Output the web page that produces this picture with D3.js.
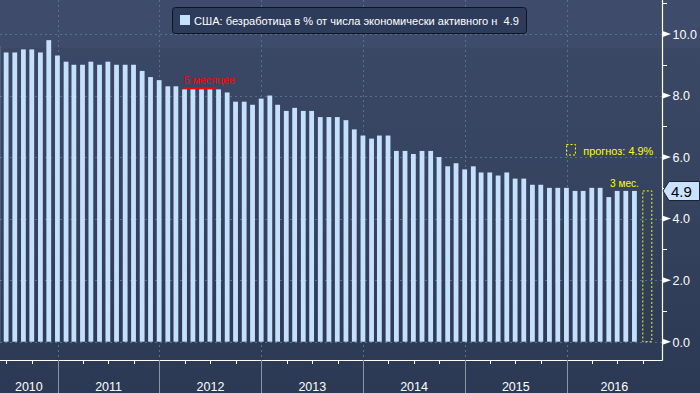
<!DOCTYPE html>
<html><head><meta charset="utf-8">
<script src="https://cdn.jsdelivr.net/npm/d3@7"></script>
<style>
body{margin:0;background:#2c3a55;overflow:hidden;}
svg{display:block;}
text{font-family:"Liberation Sans",Arial,sans-serif;}
</style>
</head><body><svg id="chart" width="700" height="393"></svg>
<script>
// ---- data ----
const periods = [
  "2010-05","2010-06","2010-07","2010-08","2010-09","2010-10","2010-11","2010-12",
  "2011-01","2011-02","2011-03","2011-04","2011-05","2011-06","2011-07","2011-08","2011-09","2011-10","2011-11","2011-12",
  "2012-01","2012-02","2012-03","2012-04","2012-05","2012-06","2012-07","2012-08","2012-09","2012-10","2012-11","2012-12",
  "2013-01","2013-02","2013-03","2013-04","2013-05","2013-06","2013-07","2013-08","2013-09","2013-10","2013-11","2013-12",
  "2014-01","2014-02","2014-03","2014-04","2014-05","2014-06","2014-07","2014-08","2014-09","2014-10","2014-11","2014-12",
  "2015-01","2015-02","2015-03","2015-04","2015-05","2015-06","2015-07","2015-08","2015-09","2015-10","2015-11","2015-12",
  "2016-01","2016-02","2016-03","2016-04","2016-05","2016-06","2016-07","2016-08"
];
const unemployment = [
  9.6,9.4,9.4,9.5,9.5,9.4,9.8,9.3,
  9.1,9.0,9.0,9.1,9.0,9.1,9.0,9.0,9.0,8.8,8.6,8.5,
  8.3,8.3,8.2,8.2,8.2,8.2,8.2,8.1,7.8,7.8,7.7,7.9,
  8.0,7.7,7.5,7.6,7.5,7.5,7.3,7.3,7.3,7.2,6.9,6.7,
  6.6,6.7,6.7,6.2,6.2,6.1,6.2,6.2,6.0,5.7,5.8,5.6,
  5.7,5.5,5.5,5.4,5.5,5.3,5.3,5.1,5.1,5.0,5.0,5.0,
  4.9,4.9,5.0,5.0,4.7,4.9,4.9,4.9
];
const forecastPeriod = "2016-09";
const forecastValue = 4.9;
const yMajorTicks = [0,2,4,6,8,10];
const yMinorTicks = [1,3,5,7,9,11];
const yearLabels = ["2010","2011","2012","2013","2014","2015","2016"];
const legendLabel = "США: безработица в % от числа экономически активного н  4.9";
const lastValueLabel = "4.9";
const note5Text = "5 месяцев";
const note5Range = ["2012-03","2012-07"];
const note3Text = "3 мес.";
const note3Range = ["2016-06","2016-08"];
const forecastText = "прогноз: 4.9%";

// ---- setup ----
const W = 700, H = 393;
const plotRight = 662, axisY = 360;
const svg = d3.select("#chart");
const monthEnd = p => { const [y,m] = p.split("-").map(Number); return new Date(y, m, 0); };

const x = d3.scaleTime()
  .domain([new Date(2011,0,1), new Date(2016,0,1)])
  .range([57.7, 566.7]);
const y = d3.scaleLinear().domain([0,10]).range([341.7, 34]);

// background
const defs = svg.append("defs");
const grad = defs.append("linearGradient").attr("id","bg").attr("x1",0).attr("y1",0).attr("x2",0).attr("y2",1);
[[0,"#3b4865"],[0.45,"#36435f"],[0.8,"#2f3c58"],[1,"#2b3954"]].forEach(([o,c]) =>
  grad.append("stop").attr("offset",o).attr("stop-color",c));
svg.append("rect").attr("x",0).attr("y",48).attr("width",W).attr("height",H-48).attr("fill","url(#bg)");
svg.append("rect").attr("x",0).attr("y",0).attr("width",W).attr("height",48).attr("fill","#3e4b6a");

const clip = defs.append("clipPath").attr("id","plotclip");
clip.append("rect").attr("x",0).attr("y",0).attr("width",plotRight).attr("height",axisY);

// grid
const years = d3.timeYear.range(new Date(2010,0,1), new Date(2017,0,1));
const grid = svg.append("g").attr("stroke","#56718d").attr("stroke-width",1).attr("stroke-dasharray","2,3");
grid.selectAll("line.h").data(yMajorTicks).join("line")
  .attr("x1",0).attr("x2",plotRight).attr("y1",d=>Math.round(y(d))+0.5).attr("y2",d=>Math.round(y(d))+0.5);
grid.selectAll("line.v").data(years.filter(d => x(d) > 0 && x(d) < plotRight)).join("line")
  .attr("x1",d=>Math.round(x(d))+0.5).attr("x2",d=>Math.round(x(d))+0.5).attr("y1",0).attr("y2",axisY);

// bars
const barW = 4.8;
const data = periods.map((p,i) => ({p, d: monthEnd(p), v: unemployment[i]}));
svg.append("g").attr("clip-path","url(#plotclip)").selectAll("rect").data(data).join("rect")
  .attr("x", d => x(d.d) - barW/2)
  .attr("y", d => y(d.v))
  .attr("width", barW)
  .attr("height", d => y(0) - y(d.v))
  .attr("fill", "#c4e0fd");

// forecast box
const fx = x(monthEnd(forecastPeriod));
svg.append("rect").attr("x",fx).attr("y",y(forecastValue)).attr("width",9).attr("height",y(0)-y(forecastValue))
  .attr("fill","none").attr("stroke","#ffff00").attr("stroke-width",1).attr("stroke-dasharray","2,2");

// axes
svg.append("line").attr("x1",0).attr("x2",plotRight+0.5).attr("y1",axisY+0.5).attr("y2",axisY+0.5).attr("stroke","#ffffff").attr("stroke-width",1.2);
svg.append("line").attr("x1",plotRight+0.5).attr("x2",plotRight+0.5).attr("y1",0).attr("y2",axisY+0.5).attr("stroke","#ffffff").attr("stroke-width",1.2);

// bottom quarterly ticks
const quarters = d3.timeMonth.every(3).range(new Date(2010,0,1), new Date(2017,0,1))
  .filter(d => d.getMonth() !== 0 && x(d) >= 0 && x(d) < plotRight);
svg.append("g").selectAll("line").data(quarters).join("line")
  .attr("x1",d=>Math.round(x(d))+0.5).attr("x2",d=>Math.round(x(d))+0.5)
  .attr("y1",axisY).attr("y2",axisY+4).attr("stroke","#ffffff").attr("stroke-width",1);
// year separators
svg.append("g").selectAll("line").data(years.filter(d => x(d) > 0 && x(d) < plotRight)).join("line")
  .attr("x1",d=>Math.round(x(d))+0.5).attr("x2",d=>Math.round(x(d))+0.5)
  .attr("y1",axisY).attr("y2",H).attr("stroke","#8d95a5").attr("stroke-width",1);
// year labels
svg.append("g").selectAll("text").data(yearLabels).join("text")
  .attr("x", (t) => { const a = Math.max(0, x(new Date(+t,0,1))), b = Math.min(plotRight, x(new Date(+t+1,0,1))); return (a+b)/2; })
  .attr("y", 390.5).attr("text-anchor","middle").attr("fill","#ffffff").attr("font-size","12.5px")
  .text(d=>d);

// right axis ticks
const yAx = svg.append("g");
yAx.selectAll("path").data(yMajorTicks).join("path")
  .attr("d", d => `M${plotRight},${y(d)-3.2}L${plotRight+9},${y(d)}L${plotRight},${y(d)+3.2}Z`)
  .attr("fill","#ffffff");
yAx.selectAll("line").data(yMinorTicks).join("line")
  .attr("x1",plotRight).attr("x2",plotRight+5).attr("y1",d=>Math.round(y(d))+0.5).attr("y2",d=>Math.round(y(d))+0.5)
  .attr("stroke","#ffffff").attr("stroke-width",1);
yAx.selectAll("text").data(yMajorTicks).join("text")
  .attr("x",672.5).attr("y",d=>y(d)+4.8).attr("fill","#ffffff").attr("font-size","12.5px")
  .text(d=>d.toFixed(1));

// last value callout
const ly = y(unemployment[unemployment.length-1]);
svg.append("path")
  .attr("d", `M${plotRight+1},${ly}L${plotRight+7},${ly-9.4}L${W-0.5},${ly-9.4}L${W-0.5},${ly+9.6}L${plotRight+7},${ly+9.6}Z`)
  .attr("fill","#c8e2ff").attr("stroke","#1a2233").attr("stroke-width",1);
svg.append("text").attr("x",671).attr("y",ly+6.3).attr("fill","#000000").attr("font-size","15px").text(lastValueLabel);

// legend
svg.append("rect").attr("x",172.5).attr("y",7.5).attr("width",354).attr("height",26).attr("rx",3)
  .attr("fill","#2e3c5c").attr("stroke","#10141d").attr("stroke-width",1);
svg.append("rect").attr("x",180).attr("y",15).attr("width",10).attr("height",10).attr("fill","#c4e0fd");
svg.append("text").attr("x",194).attr("y",25).attr("fill","#ffffff").attr("font-size","11px")
  .style("white-space","pre").attr("textLength",325).attr("lengthAdjust","spacingAndGlyphs").text(legendLabel);

// annotation: 5 months
const n5a = x(monthEnd(note5Range[0])) - 2.4, n5b = x(monthEnd(note5Range[1])) - 2.4;
svg.append("text").attr("x",n5a+1.5).attr("y",84).attr("fill","#ff0000").attr("font-size","11px")
  .attr("textLength",51).attr("lengthAdjust","spacingAndGlyphs").text(note5Text);
svg.append("line").attr("x1",n5a+1.5).attr("x2",n5b).attr("y1",y(8.2)-1.2).attr("y2",y(8.2)-1.2)
  .attr("stroke","#ff0000").attr("stroke-width",1.6);

// annotation: 3 months
const n3a = x(monthEnd(note3Range[0])) - 2.4;
svg.append("text").attr("x",n3a-4.8).attr("y",186.8).attr("fill","#ffff00").attr("font-size","11px")
  .attr("textLength",29).attr("lengthAdjust","spacingAndGlyphs").text(note3Text);

// forecast legend
svg.append("rect").attr("x",566.5).attr("y",144.5).attr("width",9).attr("height",10.5)
  .attr("fill","none").attr("stroke","#ffff00").attr("stroke-width",1).attr("stroke-dasharray","2,2");
svg.append("text").attr("x",583.3).attr("y",155).attr("fill","#ffff00").attr("font-size","11px")
  .attr("textLength",70).attr("lengthAdjust","spacingAndGlyphs").text(forecastText);
</script>
</body></html>
